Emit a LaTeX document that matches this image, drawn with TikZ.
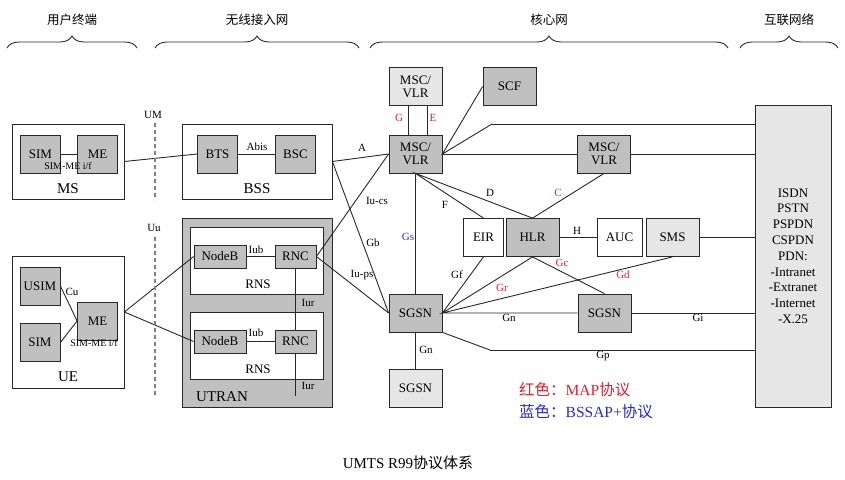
\documentclass[tikz,border=0pt]{standalone}
\usepackage{fontspec}
\setmainfont{Liberation Serif}
\newfontfamily\cjk{Noto Sans CJK SC}
\usetikzlibrary{calc,decorations.pathreplacing}
\definecolor{boxgray}{RGB}{192,192,192}
\definecolor{boxlight}{RGB}{230,230,230}
\definecolor{linegray}{RGB}{40,40,40}
\definecolor{mapred}{RGB}{225,30,45}
\definecolor{bssapblue}{RGB}{40,40,210}
\def\fs#1{\fontsize{#1}{#1}\selectfont}
\def\smallw{40pt}
\def\widew{53pt}
\def\unith{38pt}
\def\thinh{23pt}

\begin{document}
\begin{tikzpicture}[x=1pt, y=-1pt,
                    box/.style={draw=linegray, line width=.8pt, inner sep=0pt, font=\fs{13}, align=center},
                    darkbox/.style={box, fill=boxgray},
                    lightbox/.style={box, fill=boxlight},
                    whitebox/.style={box, fill=white},
                    small/.style={minimum width=\smallw, minimum height=\unith},
                    wide/.style={minimum width=\widew, minimum height=\unith},
                    wire/.style={draw=linegray, line width=.9pt},
                    air/.style={draw=gray, line width=1.3pt, dash pattern=on 4pt off 3pt},
                    brace/.style={draw=linegray, line width=.9pt, decorate, decoration={brace, amplitude=12pt}},
                    head/.style={inner sep=0pt, font=\cjk\fs{12.5}},
                    lbl/.style={inner sep=0pt, font=\fs{11}},
                    maplbl/.style={lbl, text=mapred},
                    bssaplbl/.style={lbl, text=bssapblue},
                    tag/.style={inner sep=0pt, font=\fs{15}}]
    \useasboundingbox (0,0) rectangle (845,479);
    % domains
    \foreach \xa/\xb/\head/\nm in {7/137/用户终端/user, 155/359/无线接入网/ran, 370/728/核心网/core, 740/838/互联网络/inet}{%
      \draw[brace] (\xa,48) -- (\xb,48);
      \node[head] (\nm) at ({(\xa+\xb)/2},20) {\head};}
    %
    % terminals
    \node[whitebox, minimum width=112pt, minimum height=75pt] (ms) at (68,161.5) {};
    \node[darkbox, small] (msim) at (40.5,154) {SIM};
    \node[darkbox, small] (mme) at (97.5,154) {ME};
    \node[tag] (mstag) at (68,189) {MS};
    \node[whitebox, minimum width=112pt, minimum height=132pt] (ue) at (68,322) {};
    \node[darkbox, small] (usim) at (40,286) {USIM};
    \node[darkbox, small] (sim) at (40,342.5) {SIM};
    \node[darkbox, small] (ume) at (97.5,321) {ME};
    \node[tag] (uetag) at (68,377) {UE};
    \coordinate (ueport) at ($(ue.east)+(0,-10)$);
    %
    % radio access
    \node[whitebox, minimum width=150pt, minimum height=75pt] (bss) at (257,161.5) {};
    \node[darkbox, small] (bts) at (217.5,154) {BTS};
    \node[darkbox, small] (bsc) at (295.5,154) {BSC};
    \node[tag] (bsstag) at (257,189) {BSS};
    \node[darkbox, minimum width=150pt, minimum height=189pt] (utran) at (257,312.5) {};
    \node[tag] (utrantag) at (222,397) {UTRAN};
    \foreach \i/\y in {1/260.5, 2/345.5}{%
      \node[whitebox, minimum width=133pt, minimum height=67pt] (rns\i) at (256.5,\y) {};
      \node[darkbox, minimum width=52pt, minimum height=\thinh] (nodeb\i) at (220,\y-4) {NodeB};
      \node[darkbox, minimum width=41pt, minimum height=\thinh] (rnc\i) at (295.5,\y-4) {RNC};
      \node[box, draw=none, font=\fs{13}] (rnstag\i) at (258,\y+24) {RNS};}
    \coordinate (iurend) at (295.5,396);
    %
    % core network
    \node[lightbox, wide] (mscb) at (415.5,86.5) {MSC/\\VLR};
    \node[darkbox, wide] (scf) at (509.5,86.5) {SCF};
    \node[darkbox, wide] (msc) at (415.5,154) {MSC/\\VLR};
    \node[darkbox, wide] (msc2) at (604,154) {MSC/\\VLR};
    \node[whitebox, small] (eir) at (483.5,237.5) {EIR};
    \node[darkbox, wide] (hlr) at (532.5,237.5) {HLR};
    \node[whitebox, minimum width=45pt, minimum height=\unith] (auc) at (619.5,237.5) {AUC};
    \node[lightbox, wide] (sms) at (672.5,237.5) {SMS};
    \node[darkbox, wide] (sgsn) at (415.5,313) {SGSN};
    \node[darkbox, wide] (sgsn2) at (604.5,313) {SGSN};
    \node[lightbox, wide] (sgsn3) at (415.5,388) {SGSN};
    \coordinate (topbend) at (492,124);
    \coordinate (gpbend) at (490,350);
    %
    % external networks
    \node[lightbox, minimum width=76pt, minimum height=302pt, font={\fontsize{13}{15.8}\selectfont}] (pdn) at (793,256)
      {ISDN\\PSTN\\PSPDN\\CSPDN\\PDN:\\-Intranet\\-Extranet\\-Internet\\-X.25};
    %
    % connectors
    \draw[wire] (msim) -- (mme);
    \draw[wire] (ms.east) -- (bts.west);
    \draw[wire] (bts) -- (bsc);
    \draw[wire] (usim.east) -- (ume.west) -- (sim.east);
    \draw[wire] (nodeb1.west) -- (ueport) -- (nodeb2.west);
    \foreach \i in {1,2}{\draw[wire] (nodeb\i) -- (rnc\i);}
    \draw[wire] (rnc1.south) -- (rnc2.north);
    \draw[wire] (rnc2.south) -- (iurend);
    \draw[wire] (bss.east) -- (msc.west);
    \draw[wire] (bss.east) -- (sgsn.west);
    \draw[wire] (rnc1.east) -- (msc.west);
    \draw[wire] (rnc1.east) -- (sgsn.west);
    \draw[wire] ($(mscb.south)+(-7.5,0)$) -- ($(msc.north)+(-7.5,0)$);
    \draw[wire] ($(mscb.south)+(11.5,0)$) -- ($(msc.north)+(11.5,0)$);
    \draw[wire] (scf.west) -- (msc.east) -- (topbend);
    \draw[wire] (msc) -- (msc2);
    \draw[wire] (msc.south) -- (sgsn.north);
    \draw[wire] (eir.north) -- (msc.south) -- (hlr.north) -- (msc2.south);
    \draw[wire] (hlr) -- (auc);
    \draw[wire] (eir.south) -- (sgsn.east) -- (hlr.south) -- (sgsn2.north);
    \draw[wire] (sms.south) -- (sgsn.east) -- (sgsn2.west);
    \draw[wire] (sgsn.south east) -- (gpbend);
    \draw[wire] (sgsn) -- (sgsn3);
    \foreach \src in {topbend, msc2.east, sms.east, sgsn2.east, gpbend}{%
      \draw[wire] (\src) -- (pdn.west |- \src);}
    \draw[air] (155,123) -- (155,200);
    \draw[air] (155,237) -- (155,397);
    %
    % interface labels
    \foreach \p/\t [count=\i] in {{153,115}/UM, {154,228}/Uu, {72,292}/Cu, {257,147}/Abis, {256,250}/Iub, {256,333}/Iub,
        {308,303}/Iur, {308,386}/Iur, {362,148}/A, {377,201}/Iu-cs, {373,243}/Gb, {362,275}/Iu-ps,
        {445,205}/F, {490,193}/D, {577,231}/H, {457,275}/Gf, {509,318}/Gn, {698,318}/Gi, {426,350}/Gn, {603,356}/Gp}
      \node[lbl] (lab\i) at (\p) {\t};
    \foreach \p/\t [count=\i] in {{399,118}/G, {433,118}/E, {558,193}/C, {502,288}/Gr, {562,263}/Gc, {623,275}/Gd}
      \node[maplbl] (map\i) at (\p) {\t};
    \node[bssaplbl] (bssap1) at (408,237) {Gs};
    \node[lbl, font=\fs{10}] (ifms) at (68,166) {SIM-ME i/f};
    \node[lbl, font=\fs{10}] (ifue) at (94,343) {SIM-ME i/f};
    %
    % legend and caption
    \node[anchor=west, inner sep=0pt, font=\fs{15.5}, text=mapred] (legmap) at (519,390) {{\cjk 红色：}MAP{\cjk 协议}};
    \node[anchor=west, inner sep=0pt, font=\fs{15.5}, text=bssapblue] (legbssap) at (519,412) {{\cjk 蓝色：}BSSAP+{\cjk 协议}};
    \node[inner sep=0pt, font=\fs{15}] (caption) at (408,463) {UMTS R99{\cjk 协议体系}};
\end{tikzpicture}
\end{document}
